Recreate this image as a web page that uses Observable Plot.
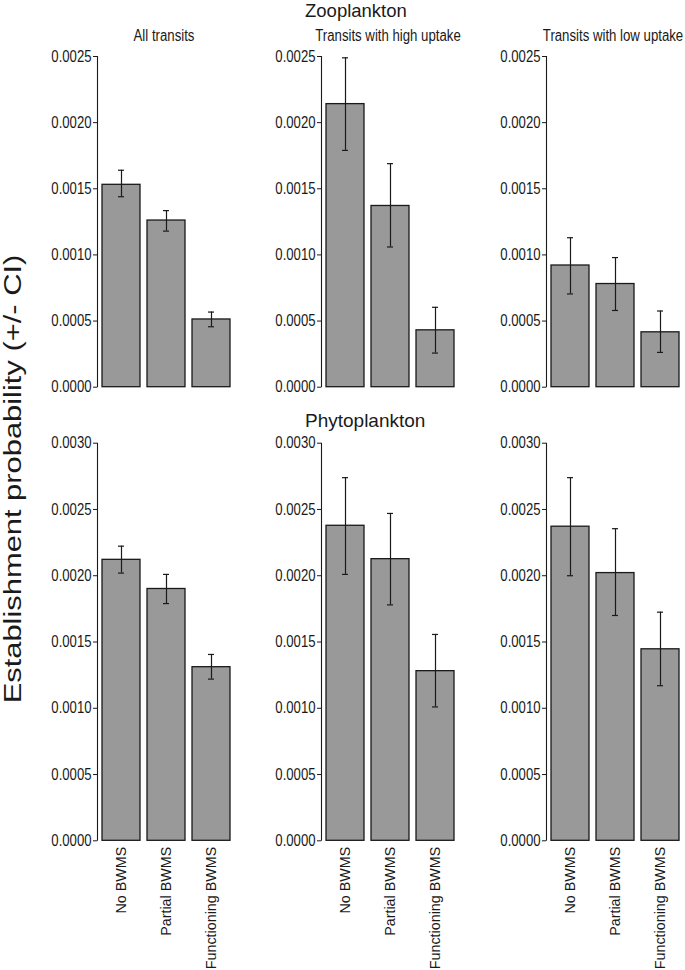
<!DOCTYPE html>
<html>
<head>
<meta charset="utf-8">
<script src="https://cdn.jsdelivr.net/npm/d3@7"></script>
<script src="https://cdn.jsdelivr.net/npm/@observablehq/plot@0.6"></script>
<style>
  html, body { margin: 0; padding: 0; background: #ffffff; }
  #fig { position: relative; width: 685px; height: 970px; overflow: hidden; background: #ffffff; }
  .lbl { position: absolute; white-space: nowrap; color: #1a1a1a; line-height: 1;
         font-family: "Liberation Sans", Arial, Helvetica, sans-serif; }
  .panel { position: absolute; }
</style>
</head>
<body>
<div id="fig"></div>
<script>
// ---------------- data ----------------
const categories = ["No BWMS", "Partial BWMS", "Functioning BWMS"];
const panelNames = ["All transits", "Transits with high uptake", "Transits with low uptake"];
const rowTitles = ["Zooplankton", "Phytoplankton"];
const yLabel = "Establishment probability (+/- CI)";

const zooTicks = [0, 0.0005, 0.0010, 0.0015, 0.0020, 0.0025];
const phytoTicks = [0, 0.0005, 0.0010, 0.0015, 0.0020, 0.0025, 0.0030];

// Zooplankton: [all transits, high uptake, low uptake]
const zooMean = [[0.00153, 0.00126, 0.000512], [0.00214, 0.00137, 0.00043], [0.00092, 0.00078, 0.000415]];
const zooLo   = [[0.00144, 0.00118, 0.000457], [0.00179, 0.00106, 0.000258], [0.000705, 0.00058, 0.000263]];
const zooHi   = [[0.00164, 0.001335, 0.000568], [0.00249, 0.00169, 0.000604], [0.00113, 0.00098, 0.000576]];

// Phytoplankton
const phytoMean = [[0.00212, 0.0019, 0.00131], [0.002377, 0.002125, 0.00128], [0.00237, 0.00202, 0.001445]];
const phytoLo   = [[0.00202, 0.00179, 0.00122], [0.00201, 0.00178, 0.00101], [0.0020, 0.0017, 0.00117]];
const phytoHi   = [[0.002223, 0.00201, 0.001406], [0.00274, 0.00247, 0.001557], [0.00274, 0.002355, 0.001725]];

// ---------------- layout ----------------
const FONT = '"Liberation Sans", Arial, Helvetica, sans-serif';
const INK = "#1a1a1a";
const axisXs = [97, 320.7, 546];       // page x of each y-axis line
const ML = 60, W = 198, PLOTW = 134;
const TICK_FS = 16, TICK_SQUEEZE = 0.82; // condensed tick labels
const rows = [
  {top: 0,   height: 400, mt: 56,   mb: 400 - 386.7, max: 0.0025, ticks: zooTicks,   mean: zooMean,   lo: zooLo,   hi: zooHi,   showX: false},
  {top: 400, height: 570, mt: 42.7, mb: 570 - 440.3, max: 0.0030, ticks: phytoTicks, mean: phytoMean, lo: phytoLo, hi: phytoHi, showX: true}
];

const fig = document.getElementById("fig");

function axisLine(yMax) {
  return (index, scales, values, dims) => {
    const x = dims.marginLeft + 0.5;
    return d3.create("svg:line")
      .attr("x1", x).attr("x2", x)
      .attr("y1", scales.y(0) + 0.5).attr("y2", scales.y(yMax))
      .attr("stroke", INK).attr("stroke-width", 1.1)
      .node();
  };
}

function panel(row, col) {
  const data = categories.map((c, i) => ({cat: c, v: row.mean[col][i], lo: row.lo[col][i], hi: row.hi[col][i]}));
  const xOpts = {domain: categories, insetLeft: 4, paddingInner: 0.162, paddingOuter: 0};
  if (!row.showX) xOpts.axis = null;
  const marks = [
    Plot.barY(data, {x: "cat", y: "v", fill: "#999999", stroke: INK, strokeWidth: 1.3}),
    Plot.ruleX(data, {x: "cat", y1: "lo", y2: "hi", stroke: INK, strokeWidth: 1.2}),
    Plot.tickY(data, {x: "cat", y: "lo", insetLeft: 16, insetRight: 16, stroke: INK, strokeWidth: 1.2}),
    Plot.tickY(data, {x: "cat", y: "hi", insetLeft: 16, insetRight: 16, stroke: INK, strokeWidth: 1.2}),
    Plot.axisY({ticks: row.ticks, tickFormat: d3.format(".4f"), tickSize: 4, tickPadding: 2, label: null,
                fontSize: TICK_FS, fontFamily: FONT, stroke: INK, fill: INK}),
    axisLine(row.max)
  ];
  if (row.showX) {
    marks.push(Plot.axisX({tickRotate: -90, tickSize: 0, tickPadding: 6, label: null,
                           fontSize: 14.3, fontFamily: FONT, fill: INK}));
  }
  const chart = Plot.plot({
    width: W, height: row.height,
    marginLeft: ML, marginRight: W - ML - PLOTW, marginTop: row.mt, marginBottom: row.mb,
    style: {background: "transparent", overflow: "visible", color: INK, fontFamily: FONT, fontSize: "15px"},
    x: xOpts,
    y: {domain: [0, row.max], axis: null},
    marks
  });
  const wrap = document.createElement("div");
  wrap.className = "panel";
  wrap.style.left = (axisXs[col] - ML) + "px";
  wrap.style.top = row.top + "px";
  wrap.appendChild(chart);
  fig.appendChild(wrap);
  // condense the y tick labels (narrow face look of the original)
  d3.select(chart).selectAll('g[aria-label="y-axis tick label"] text').each(function() {
    const len = this.getComputedTextLength();
    this.setAttribute("textLength", (len * TICK_SQUEEZE).toFixed(2));
    this.setAttribute("lengthAdjust", "spacingAndGlyphs");
  });
}

rows.forEach(r => [0, 1, 2].forEach(c => panel(r, c)));

// ---------------- text ----------------
function addText(txt, size, left, baseline, opts = {}) {
  const d = document.createElement("div");
  d.className = "lbl";
  d.textContent = txt;
  d.style.fontSize = size + "px";
  d.style.top = Math.max(0, baseline - 0.8465 * size) + "px";
  if (opts.center) {
    d.style.width = "300px";
    d.style.textAlign = "center";
    d.style.left = (left - 150) + "px";
  } else {
    d.style.left = left + "px";
  }
  if (opts.squeeze) {
    d.style.transform = `scaleX(${opts.squeeze})`;
    d.style.transformOrigin = "50% 50%";
  }
  fig.appendChild(d);
  return d;
}

addText(rowTitles[0], 18.5, 305, 17.2);
addText(rowTitles[1], 19, 305, 426.7);
panelNames.forEach((n, i) => addText(n, 16, axisXs[i] + 67, 41.7, {center: true, squeeze: 0.825}));

// y label (rotated, stretched along its length like the original)
const yl = document.createElement("div");
yl.className = "lbl";
yl.textContent = yLabel;
yl.style.fontSize = "24.8px";
yl.style.width = "600px";
yl.style.height = "30px";
yl.style.lineHeight = "30px";
yl.style.textAlign = "center";
yl.style.left = (13 - 300) + "px";
yl.style.top = (479 - 15) + "px";
yl.style.transform = "rotate(-90deg) scaleX(1.245)";
yl.style.transformOrigin = "50% 50%";
fig.appendChild(yl);
</script>
</body>
</html>
